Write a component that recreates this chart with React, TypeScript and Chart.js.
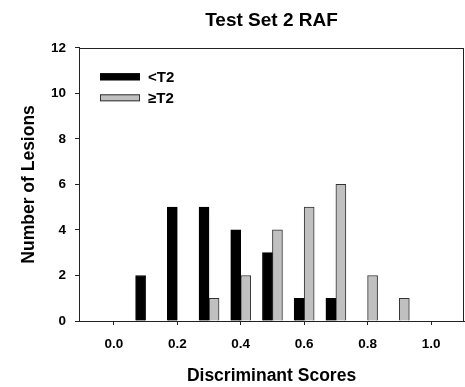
import React, { useEffect, useRef } from "react";
import { Chart, registerables } from "chart.js";

Chart.register(...registerables);

const titleText = "Test Set 2 RAF";
const xTitle = "Discriminant Scores";
const yTitle = "Number of Lesions";
const seriesLabels = ["<T2", "\u2265T2"];
const belowX = [0.1, 0.2, 0.3, 0.4, 0.5, 0.6, 0.7];
const belowY = [2, 5, 5, 4, 3, 1, 1];
const aboveX = [0.3, 0.4, 0.5, 0.6, 0.7, 0.8, 0.9];
const aboveY = [1, 2, 4, 5, 6, 2, 1];
const xTicks = [0, 0.2, 0.4, 0.6, 0.8, 1.0];
const yTicks = [0, 2, 4, 6, 8, 10, 12];

const FONT = "'Liberation Sans', Arial, sans-serif";

const framePlugin = {
  id: "frame",
  afterDraw(chart: any) {
    const { ctx, chartArea } = chart;
    ctx.save();
    ctx.strokeStyle = "#222";
    ctx.lineWidth = 1;
    ctx.strokeRect(
      Math.round(chartArea.left) + 0.5,
      Math.round(chartArea.top) + 0.5,
      Math.round(chartArea.right - chartArea.left) - 1,
      Math.round(chartArea.bottom - chartArea.top)
    );
    const ds = chart.data.datasets;
    const x0 = chartArea.left + 21;
    const ys = [chartArea.top + 29, chartArea.top + 50];
    ctx.font = `bold 15px ${FONT}`;
    ctx.textBaseline = "middle";
    ctx.textAlign = "left";
    ds.forEach((d: any, i: number) => {
      ctx.fillStyle = d.backgroundColor;
      ctx.fillRect(x0, ys[i] - 3.5, 40, 7);
      ctx.strokeStyle = d.borderColor;
      ctx.lineWidth = 1;
      ctx.strokeRect(x0 + 0.5, ys[i] - 3.5 + 0.5, 39, 6);
      ctx.fillStyle = "#000";
      ctx.fillText(d.label, x0 + 48, ys[i] + 1);
    });
    ctx.restore();
  },
};

export default function App() {
  const ref = useRef<HTMLCanvasElement>(null);
  useEffect(() => {
    if (!ref.current) return;
    const chart = new Chart(ref.current, {
      type: "bar",
      data: {
        datasets: [
          {
            label: seriesLabels[0],
            data: belowX.map((x, i) => ({ x, y: belowY[i] })),
            backgroundColor: "#000000",
            borderColor: "#000000",
            borderWidth: 1,
            barThickness: 10,
          },
          {
            label: seriesLabels[1],
            data: aboveX.map((x, i) => ({ x, y: aboveY[i] })),
            backgroundColor: "#c0c0c0",
            borderColor: "#333333",
            borderWidth: 1,
            barThickness: 10,
          },
        ],
      },
      options: {
        animation: false,
        responsive: false,
        layout: { padding: { left: 0, right: 1, top: 0, bottom: 0 } },
        plugins: {
          legend: { display: false },
          tooltip: { enabled: false },
          title: {
            display: true,
            text: titleText,
            fullSize: false,
            color: "#000",
            font: { family: FONT, size: 19, weight: "bold" },
            padding: { top: 9, bottom: 16 },
          },
        },
        scales: {
          x: {
            type: "linear",
            offset: false,
            min: -0.11,
            max: 1.104,
            afterBuildTicks(scale: any) {
              scale.ticks = xTicks.map((v) => ({ value: v }));
            },
            afterFit(scale: any) {
              scale.height = 66;
            },
            grid: {
              offset: false,
              drawOnChartArea: false,
              drawTicks: true,
              tickLength: 4,
              color: "#222",
            },
            border: { display: true, color: "#222", width: 1 },
            ticks: {
              color: "#000",
              padding: 11,
              font: { family: FONT, size: 13.5, weight: "bold" },
              callback: (v: any) => Number(v).toFixed(1),
            },
            title: {
              display: true,
              text: xTitle,
              color: "#000",
              font: { family: FONT, size: 17.5, weight: "bold" },
              padding: { top: 8, bottom: 0 },
            },
          },
          y: {
            min: 0,
            max: 12,
            afterBuildTicks(scale: any) {
              scale.ticks = yTicks.map((v) => ({ value: v }));
            },
            afterFit(scale: any) {
              scale.width = 79;
            },
            grid: {
              drawOnChartArea: false,
              drawTicks: true,
              tickLength: 4,
              color: "#222",
            },
            border: { display: true, color: "#222", width: 1 },
            ticks: {
              color: "#000",
              padding: 9,
              font: { family: FONT, size: 13.5, weight: "bold" },
            },
            title: {
              display: true,
              text: yTitle,
              color: "#000",
              font: { family: FONT, size: 17.5, weight: "bold" },
              padding: { top: 18.5, bottom: 10 },
            },
          },
        },
      },
      plugins: [framePlugin],
    } as any);
    return () => chart.destroy();
  }, []);
  return (
    <div style={{ position: "fixed", left: 0, top: 0, width: 465, height: 387, background: "#fff" }}>
      <canvas ref={ref} width={465} height={387} style={{ display: "block" }} />
    </div>
  );
}
